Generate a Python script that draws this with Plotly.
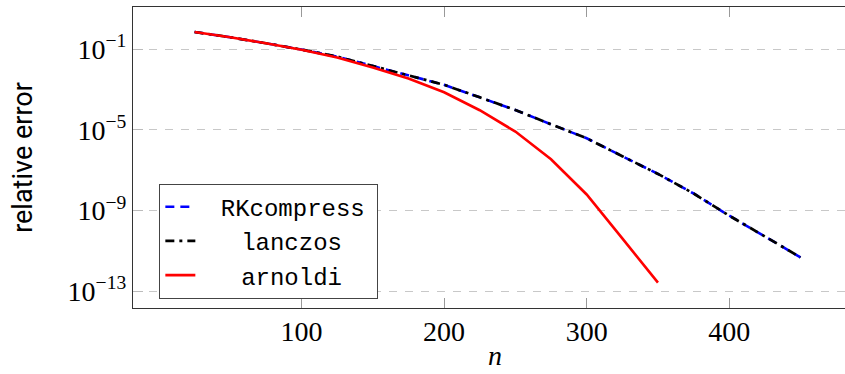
import plotly.graph_objects as go

# ---- data ----
n_lanczos = [25, 50, 75, 100, 125, 150, 175, 200, 225, 250, 275, 300, 325, 350, 375, 400, 425, 450]
rkcompress_err = [0.724, 0.398, 0.1995, 0.0977, 0.0437, 0.0151, 5.13e-3, 1.74e-3, 4.17e-4, 9.77e-5,
                  1.91e-5, 3.89e-6, 5.01e-7, 6.61e-8, 7.08e-9, 5.62e-10, 5.25e-11, 4.79e-12]
lanczos_err = [0.724, 0.398, 0.1995, 0.0977, 0.0437, 0.0151, 5.13e-3, 1.74e-3, 4.17e-4, 9.77e-5,
               1.91e-5, 3.89e-6, 5.01e-7, 6.61e-8, 7.08e-9, 5.62e-10, 5.25e-11, 4.79e-12]
n_arnoldi = [25, 50, 75, 100, 125, 150, 175, 200, 225, 250, 275, 300, 325, 350]
arnoldi_err = [0.724, 0.398, 0.1995, 0.0955, 0.0398, 0.0126, 3.55e-3, 7.41e-4, 9.55e-5, 8.32e-6,
               3.55e-7, 6.31e-9, 4.17e-11, 2.69e-13]

x_ticks = [100, 200, 300, 400]
y_ticks = [1e-1, 1e-5, 1e-9, 1e-13]
y_ticktext = ["10<sup>\u22121</sup>", "10<sup>\u22125</sup>", "10<sup>\u22129</sup>", "10<sup>\u221213</sup>"]

series_names = ["RKcompress", "lanczos", "arnoldi"]

pad_a = '<span style="font-size:17px">\u00a0\u00a0</span>'
pad_b = '<span style="font-size:17px">\u00a0\u00a0\u00a0\u00a0</span>'
pad_end = '<span style="font-size:12px">\u00a0</span>'

fig = go.Figure()
fig.add_trace(go.Scatter(x=n_lanczos, y=rkcompress_err, mode="lines", name=pad_a + series_names[0] + pad_end,
                         line=dict(color="#0000ff", width=2.6, dash="9px,6px")))
fig.add_trace(go.Scatter(x=n_lanczos, y=lanczos_err, mode="lines", name=pad_b + series_names[1],
                         line=dict(color="#000000", width=2.7, dash="9px,5px,3px,5px")))
fig.add_trace(go.Scatter(x=n_arnoldi, y=arnoldi_err, mode="lines", name=pad_b + series_names[2],
                         line=dict(color="#ff0000", width=2.6)))

serif = "Liberation Serif"

fig.update_layout(
    width=845, height=374,
    margin=dict(l=133, r=0, t=7, b=66),
    plot_bgcolor="white", paper_bgcolor="white",
    showlegend=True,
    legend=dict(x=0.037, y=0.031, xanchor="left", yanchor="bottom",
                bgcolor="white", bordercolor="#444", borderwidth=1,
                font=dict(family="Liberation Mono", size=24, color="black"),
                tracegroupgap=0, itemwidth=30),
    xaxis=dict(range=[-18.2, 481.2], tickvals=x_ticks, ticktext=[str(v) for v in x_ticks],
               ticks="inside", ticklen=10, tickcolor="#999", tickwidth=1,
               showline=True, linecolor="#333", linewidth=1.3, mirror="ticks",
               showgrid=False, zeroline=False, ticklabelstandoff=-2,
               tickfont=dict(family=serif, size=28, color="black")),
    yaxis=dict(type="log", range=[-13.83, 1.10], tickvals=y_ticks, ticktext=y_ticktext,
               ticks="inside", ticklen=10, tickcolor="#bbb", tickwidth=1,
               showline=True, linecolor="#333", linewidth=1.3, mirror=False,
               showgrid=True, gridcolor="#c8c8c8", gridwidth=1, griddash="8px,8px",
               zeroline=False,
               tickfont=dict(family=serif, size=28, color="black"),
               title=dict(text="relative error", font=dict(family="Roboto", size=27, color="black"),
                          standoff=27)),
    annotations=[dict(text="<i>n</i>", xref="paper", yref="paper", x=0.508, y=-0.213,
                      xanchor="center", yanchor="bottom", showarrow=False, borderpad=0,
                      font=dict(family=serif, size=28, color="black"))],
)

fig.write_html("out.html")
